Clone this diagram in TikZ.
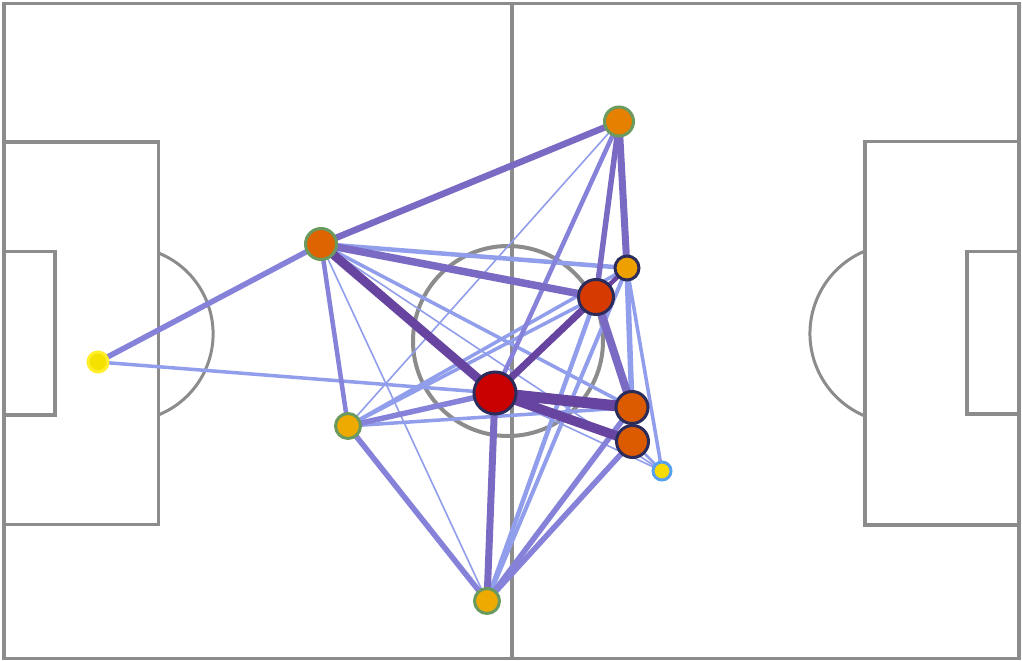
\documentclass[tikz,border=0pt]{standalone}
\definecolor{pitchgray}{RGB}{140,140,140}
\definecolor{cL}{RGB}{145,158,236}
\definecolor{cM}{RGB}{134,130,218}
\definecolor{cMD}{RGB}{122,106,196}
\definecolor{cD}{RGB}{102,68,160}
\definecolor{rimG}{RGB}{106,154,94}
\definecolor{rimN}{RGB}{44,44,92}
\definecolor{rimY}{RGB}{255,238,40}
\definecolor{rimB}{RGB}{90,160,240}
\pgfdeclarelayer{bg}
\pgfdeclarelayer{edges}
\pgfsetlayers{bg,edges,main}
\begin{document}
\begin{tikzpicture}[x=1bp,y=-1bp,
  pitch/.style={draw=pitchgray,line width=3.5bp},
  player/.style={circle,inner sep=0pt,line width=3bp},
  eL/.style={draw=cL,line width=#1bp},
  eM/.style={draw=cM,line width=#1bp},
  eMD/.style={draw=cMD,line width=#1bp},
  eD/.style={draw=cD,line width=#1bp}]
\useasboundingbox (0,0) rectangle (1022,661);
\begin{pgfonlayer}{bg}
\fill[white] (0,0) rectangle (1022,661);
\draw[pitch] (4,3.5) rectangle (1019,658.5);
\draw[pitch] (512,3.5) -- (512,658.5);
\draw[pitch] (4,142) rectangle (158.5,524.5);
\draw[pitch] (4,251.5) rectangle (55,415);
\draw[pitch] (865,141.5) rectangle (1019,525);
\draw[pitch] (967,251.5) rectangle (1019,414);
\draw[pitch,line width=4bp] (508,341) circle[radius=95];
\draw[pitch,line width=3bp] (158.5,253) arc[start angle=-68,end angle=68,radius=87.3];
\draw[pitch,line width=3bp] (865,251) arc[start angle=-112.6,end angle=-247.4,radius=89.4];
\end{pgfonlayer}

\node[player,minimum size=20bp,fill={rgb,255:red,245;green,225;blue,0},draw=rimY] (n1) at (98,362) {};
\node[player,minimum size=31bp,fill={rgb,255:red,221;green,100;blue,0},draw=rimG] (n2) at (321,244) {};
\node[player,minimum size=29bp,fill={rgb,255:red,230;green,128;blue,0},draw=rimG] (n3) at (619,121.5) {};
\node[player,minimum size=24bp,fill={rgb,255:red,238;green,160;blue,0},draw=rimN] (n4) at (627,268) {};
\node[player,minimum size=35bp,fill={rgb,255:red,214;green,58;blue,0},draw=rimN] (n5) at (596,297) {};
\node[player,minimum size=42bp,fill={rgb,255:red,200;green,0;blue,0},draw=rimN] (n6) at (495,393) {};
\node[player,minimum size=32bp,fill={rgb,255:red,220;green,90;blue,0},draw=rimN] (n7) at (632,407.5) {};
\node[player,minimum size=32bp,fill={rgb,255:red,220;green,90;blue,0},draw=rimN] (n8) at (632.5,441.5) {};
\node[player,minimum size=18bp,fill={rgb,255:red,248;green,220;blue,0},draw=rimB] (n9) at (662,471) {};
\node[player,minimum size=25bp,fill={rgb,255:red,238;green,170;blue,0},draw=rimG] (n10) at (348,426) {};
\node[player,minimum size=25bp,fill={rgb,255:red,238;green,170;blue,0},draw=rimG] (n11) at (487,601) {};

\begin{pgfonlayer}{edges}
% light
\draw[eL=1.6] (n2.center) -- (n11.center);
\draw[eL=1.6] (n2.center) -- (n9.center);
\draw[eL=1.6] (n3.center) -- (n10.center);
\draw[eL=1.6] (n6.center) -- (n9.center);
\draw[eL=2.5] (n8.center) -- (n9.center);
\draw[eL=3.5] (n1.center) -- (n6.center);
\draw[eL=3.5] (n2.center) -- (n7.center);
\draw[eL=3.5] (n4.center) -- (n9.center);
\draw[eL=3.5] (n4.center) -- (n10.center);
\draw[eL=3.5] (n4.center) -- (n8.center);
\draw[eL=3.5] (n5.center) -- (n10.center);
\draw[eL=3.5] (n7.center) -- (n10.center);
\draw[eL=4] (n4.center) -- (n11.center);
\draw[eL=4.5] (n5.center) -- (n11.center);
\draw[eL=4.5] (n2.center) -- (n4.center);
\draw[eL=5.5] (n4.center) -- (n7.center);
% medium
\draw[eM=4.5] (n2.center) -- (n10.center);
\draw[eM=4.5] (n3.center) -- (n6.center);
\draw[eM=5.5] (n6.center) -- (n10.center);
\draw[eM=5.5] (n10.center) -- (n11.center);
\draw[eM=5.5] (n7.center) -- (n11.center);
\draw[eM=5.5] (n8.center) -- (n11.center);
\draw[eM=5.5] (n1.center) -- (n2.center);
% medium dark
\draw[eMD=5.5] (n3.center) -- (n5.center);
\draw[eMD=7] (n6.center) -- (n11.center);
\draw[eMD=6.5] (n2.center) -- (n3.center);
\draw[eMD=7] (n3.center) -- (n4.center);
\draw[eMD=7.5] (n2.center) -- (n5.center);
\draw[eMD=8] (n5.center) -- (n7.center);
% dark
\draw[eD=4.5] (n6.center) -- (n4.center);
\draw[eD=7] (n6.center) -- (n5.center);
\draw[eD=9] (n2.center) -- (n6.center);
\draw[eD=9.5] (n6.center) -- (n8.center);
\draw[eD=11] (n6.center) -- (n7.center);
\end{pgfonlayer}
\end{tikzpicture}
\end{document}
